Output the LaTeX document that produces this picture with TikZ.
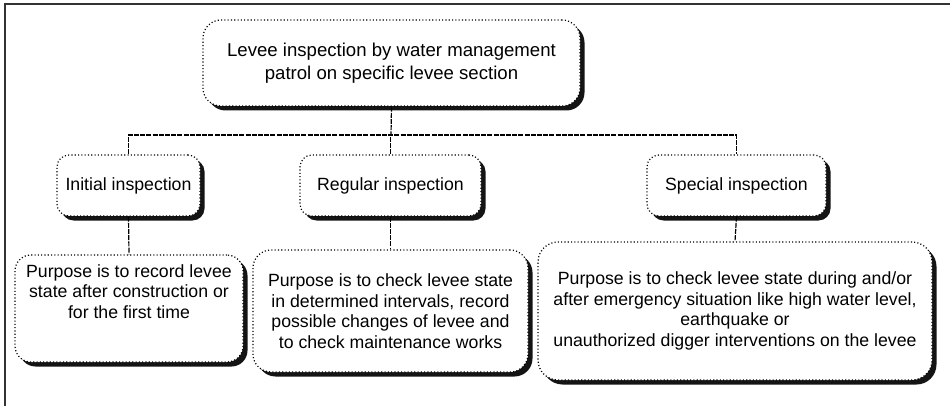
\documentclass[tikz,border=0pt]{standalone}
\usepackage{fontspec}
\setmainfont{Liberation Sans}
\usetikzlibrary{shadows}
\begin{document}
\begin{tikzpicture}[x=1pt,y=-1pt,
  box/.style={draw=black, fill=white, line width=1.2pt, dash pattern=on 1.1pt off 2.2pt,
    rounded corners=#1, align=center, inner sep=0pt,
    font=\fontsize{17.7}{20.5}\selectfont,
    drop shadow={shadow xshift=4.5pt, shadow yshift=-4.5pt, fill=black, opacity=0.92}},
  box/.default=14pt,
  conn/.style={draw=black, line width=1.2pt, dash pattern=on 5pt off 1.2pt}]
\useasboundingbox (0,0) rectangle (950,406);
\draw[line width=1.3pt, black!80] (5,406) -- (5,4) -- (950,4);

\node[box=18pt, minimum width=377pt, minimum height=86pt,
  font=\fontsize{18.6}{23}\selectfont] (top) at (391.5,63)
  {Levee inspection by water management\\ patrol on specific levee section};

\node[box=12pt, minimum width=143pt, minimum height=61pt] (init) at (128.5,185.5) {Initial inspection};
\node[box=12pt, minimum width=181pt, minimum height=61pt] (reg) at (390.5,185.5) {Regular inspection};
\node[box=12pt, minimum width=179pt, minimum height=61pt] (spec) at (736.5,185.5) {Special inspection};

\node[box=16pt, minimum width=228pt, minimum height=107pt] (initp) at (129,308.5)
  {Purpose is to record levee\\ state after construction or\\ for the first time\\[14pt]};
\node[box=18pt, minimum width=275pt, minimum height=122pt] (regp) at (390.5,311)
  {Purpose is to check levee state\\ in determined intervals, record\\ possible changes of levee and\\ to check maintenance works};
\node[box=20pt, minimum width=394pt, minimum height=138pt] (specp) at (735,311)
  {Purpose is to check levee state during and/or\\ after emergency situation like high water level,\\ earthquake or\\ unauthorized digger interventions on the levee};

\coordinate (hub) at (391,135);
\draw[conn] (top.south) -- (hub);
\draw[conn] (init.north) |- (hub) -| (spec.north);
\draw[conn] (reg.north) -- (reg.north |- hub);
\draw[conn] (init.south) -- (initp.north);
\draw[conn] (reg.south) -- (regp.north);
\draw[conn] (spec.south) -- (specp.north);
\end{tikzpicture}
\end{document}
